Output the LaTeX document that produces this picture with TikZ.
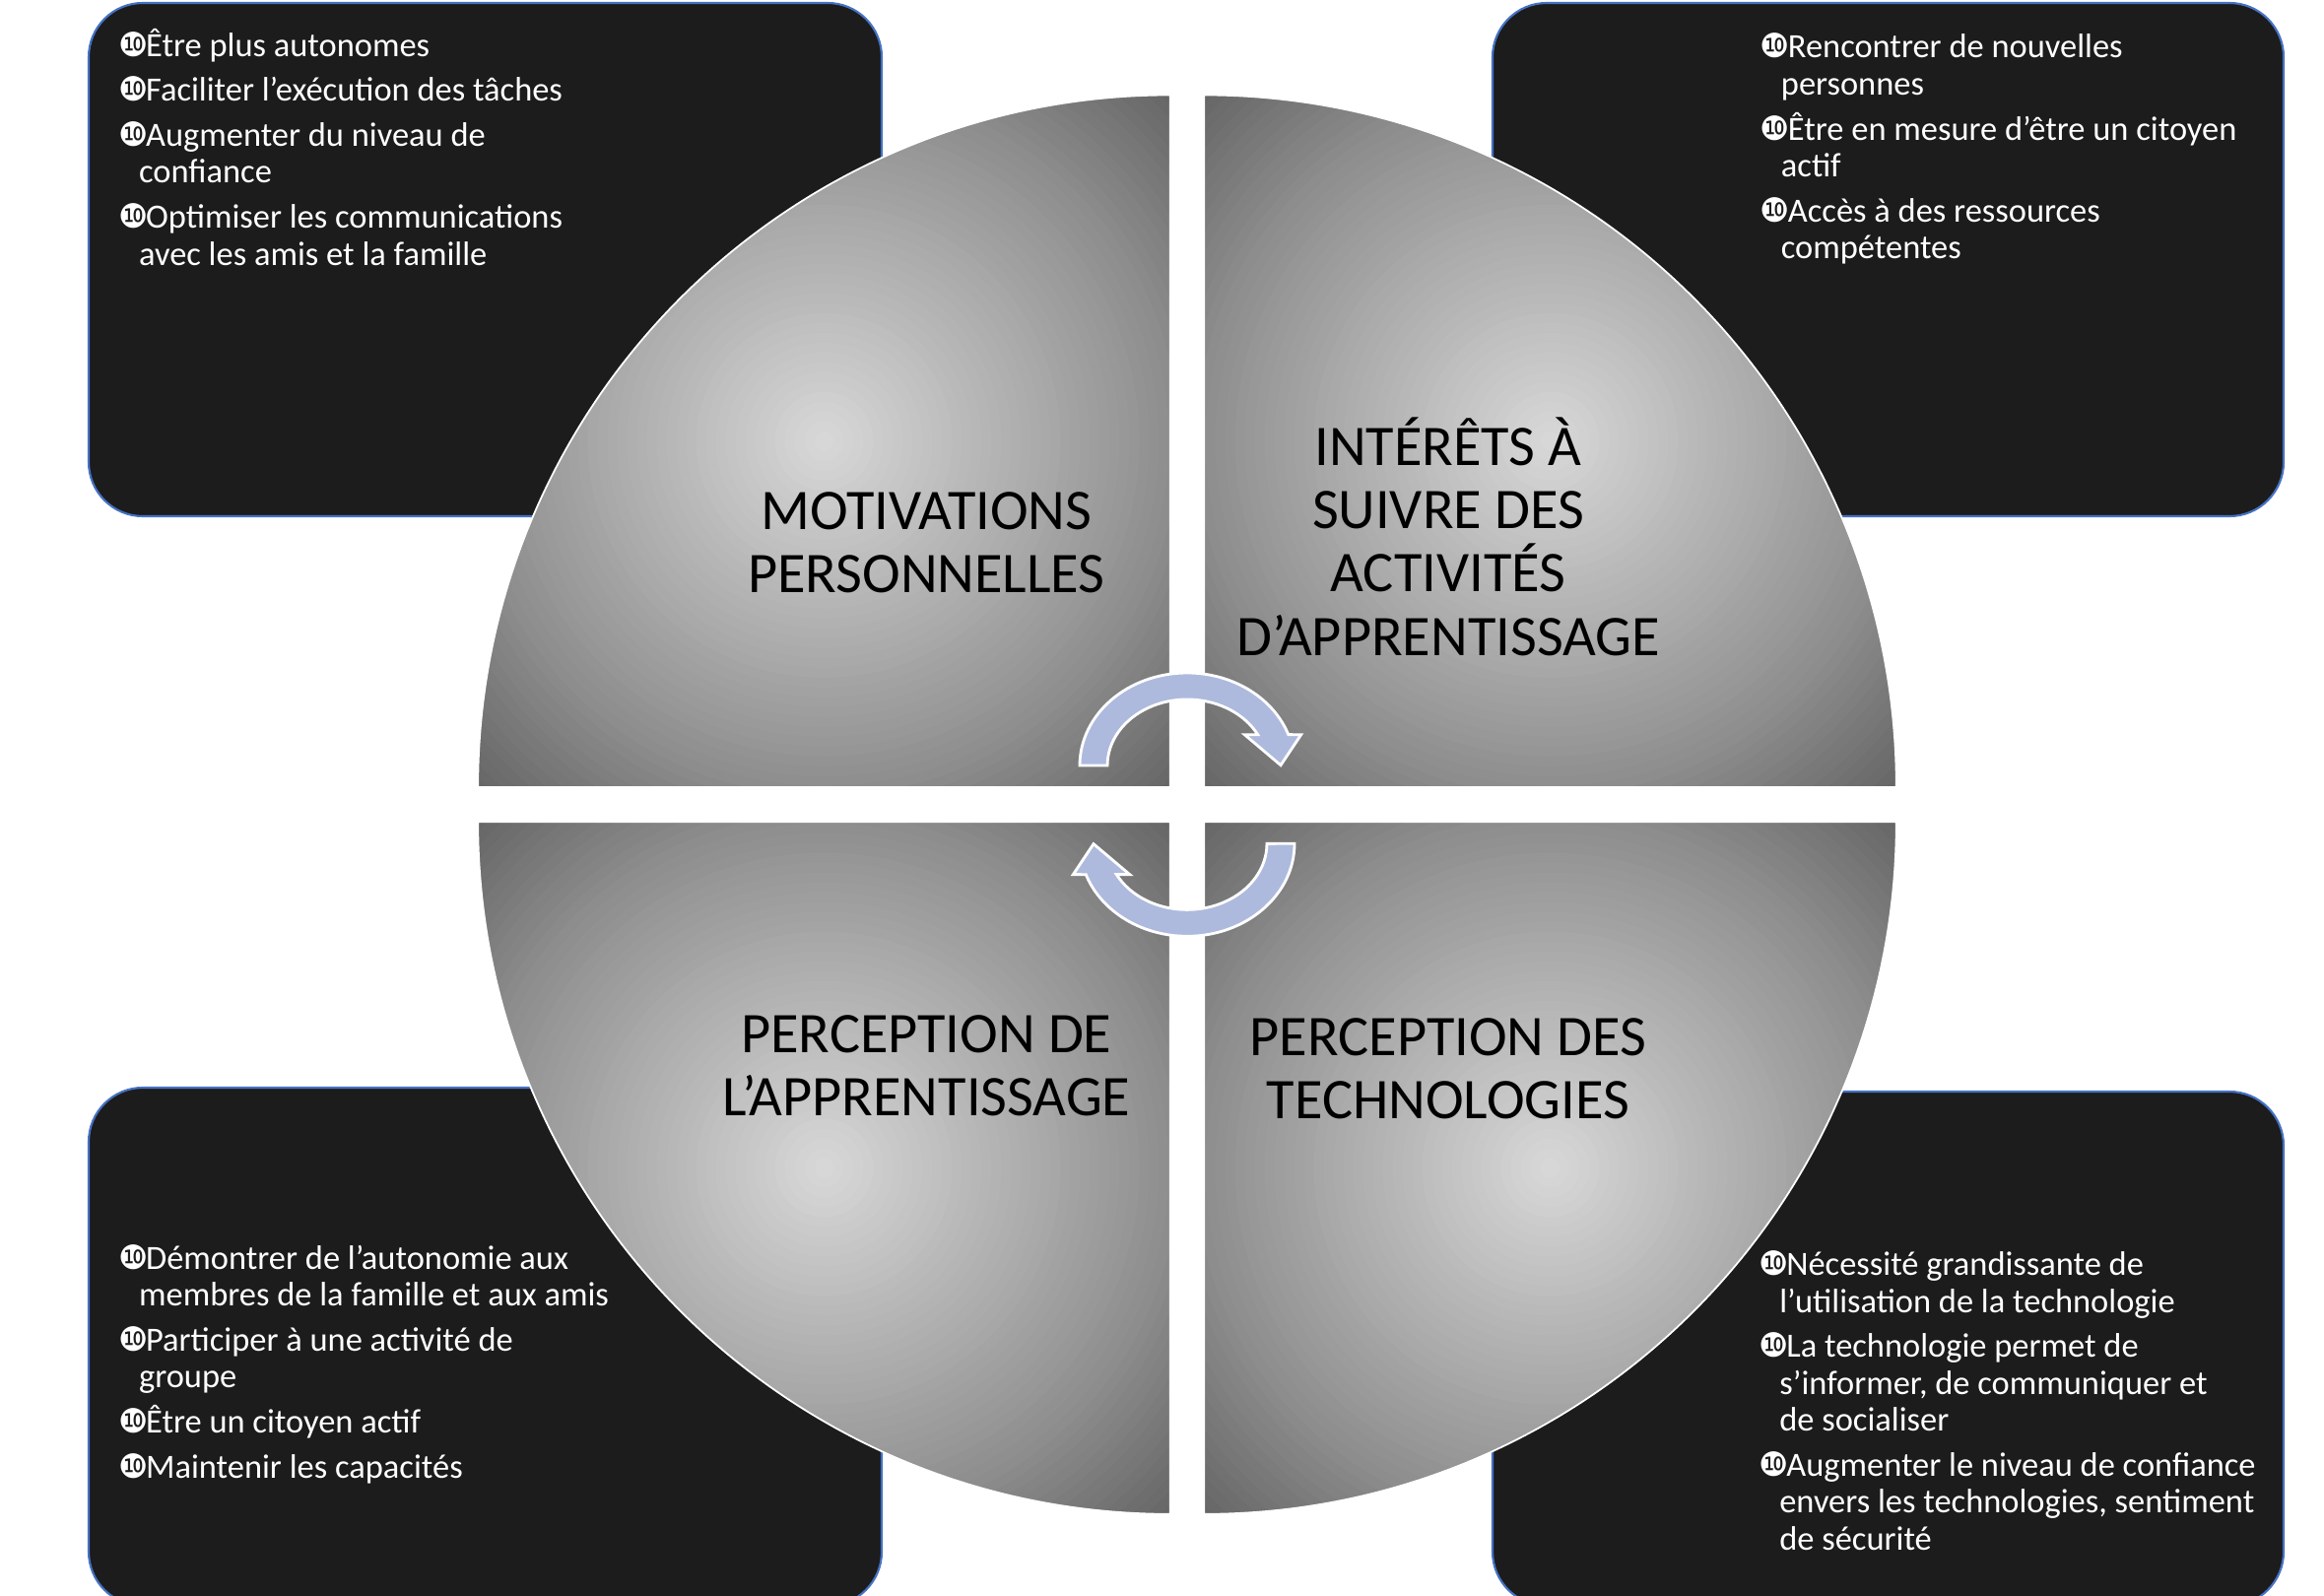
\documentclass[tikz,border=0pt]{standalone}
\usepackage{fontspec}
\setmainfont{Carlito}
\newfontfamily\bulfont{DejaVu Sans}
\definecolor{boxfill}{HTML}{1C1C1C}
\definecolor{boxblue}{HTML}{4472C4}
\definecolor{arrowblue}{RGB}{173,186,222}
\newlength\bulw \setlength\bulw{0.28cm}
\newlength\contind \setlength\contind{0.21cm}
\newcommand\mybul{{\bulfont\fontsize{9.6}{9.6}\selectfont ❿}}
\newcommand\bitem[1]{\hbox{\makebox[\bulw][l]{\mybul}#1}}
\newcommand\bcont[1]{\hbox{\hspace*{\contind}#1}}
\newcommand\bgap{\vskip 2.3pt}
\newcommand\blist[1]{\vtop{\baselineskip=10.67pt\lineskiplimit=-30pt\lineskip=0pt #1}}
\newcommand\qline[1]{\hbox to 6cm{\hfil#1\hfil}}
\newcommand\qlist[1]{\vtop{\baselineskip=18.3pt\lineskiplimit=-30pt\lineskip=0pt #1}}
% radial grey fill of one quarter: #1 = quarter path, #2 = centre of its square
\newcommand\shadequarter[2]{%
  \begin{scope}
    \clip #1;
    \foreach \i in {50,...,1}{%
      \pgfmathsetmacro\rr{\i*0.1}%
      \pgfmathsetmacro\gg{\rr<3.51 ? 217-21.07*\rr : 143-27.4*(\rr-3.51)}%
      \pgfmathsetmacro\pc{100*(1-\gg/255)}%
      \fill[black!\pc!white] #2 circle (\rr);
    }
  \end{scope}
  \draw[quarteredge] #1;}
\tikzset{
  infobox/.style={fill=boxfill, draw=boxblue, line width=0.6pt, rounded corners=0.55cm},
  quarteredge/.style={draw=white, line width=0.5pt},
  cyclearrow/.style={fill=arrowblue, draw=white, line width=0.8pt, line join=miter},
  btext/.style={text=white, inner sep=0pt, anchor=base west, font=\fontsize{9.8}{10.67}\selectfont},
  qtext/.style={text=black, inner sep=0pt, anchor=base, font=\fontsize{16.6}{18.3}\selectfont}
}
\begin{document}
\begin{tikzpicture}
\useasboundingbox (0,0) rectangle (23.59,-16.20);
\clip (0,0) rectangle (23.59,-16.20);
% boxes
\path[infobox] (0.90,-0.03) rectangle (8.95,-5.24);
\path[infobox] (15.15,-0.03) rectangle (23.18,-5.24);
\path[infobox] (0.90,-11.04) rectangle (8.95,-16.30);
\path[infobox] (15.15,-11.08) rectangle (23.18,-16.30);
% quarters
\shadequarter{(11.877,-7.99) -- ++(-7.025,0) arc[start angle=180, end angle=90, radius=7.025] -- cycle}{(8.3645,-4.4775)}
\shadequarter{(12.223,-7.99) -- ++(7.025,0) arc[start angle=0, end angle=90, radius=7.025] -- cycle}{(15.7355,-4.4775)}
\shadequarter{(11.877,-8.343) -- ++(-7.025,0) arc[start angle=180, end angle=270, radius=7.025] -- cycle}{(8.3645,-11.8555)}
\shadequarter{(12.223,-8.343) -- ++(7.025,0) arc[start angle=0, end angle=-90, radius=7.025] -- cycle}{(15.7355,-11.8555)}
% cycle arrows
\coordinate (mid) at (12.05,-8.1665);
\path[cyclearrow] (10.96,-7.77) arc[start angle=180, end angle=19.5, x radius=1.09, y radius=0.94]
  -- (13.207,-7.457) -- (13.00,-7.767) -- (12.633,-7.457) -- (12.767,-7.457)
  arc[start angle=27.8, end angle=180, x radius=0.81, y radius=0.67] -- cycle;
\begin{scope}[rotate around={180:(mid)}]
\path[cyclearrow] (10.96,-7.77) arc[start angle=180, end angle=19.5, x radius=1.09, y radius=0.94]
  -- (13.207,-7.457) -- (13.00,-7.767) -- (12.633,-7.457) -- (12.767,-7.457)
  arc[start angle=27.8, end angle=180, x radius=0.81, y radius=0.67] -- cycle;
\end{scope}
% quarter labels
\node[qtext] (qtl) at (9.404,-5.375) {\qlist{\qline{MOTIVATIONS}\qline{PERSONNELLES}}};
\node[qtext] (qtr) at (14.70,-4.723) {\qlist{\qline{INTÉRÊTS À}\qline{SUIVRE DES}\qline{ACTIVITÉS}\qline{D’APPRENTISSAGE}}};
\node[qtext] (qbl) at (9.403,-10.68) {\qlist{\qline{PERCEPTION DE}\qline{L’APPRENTISSAGE}}};
\node[qtext] (qbr) at (14.70,-10.71) {\qlist{\qline{PERCEPTION DES}\qline{TECHNOLOGIES}}};
% box texts
\node[btext] (ttl) at (1.194,-0.573) {\blist{%
\bitem{Être plus autonomes}\bgap
\bitem{Faciliter l’exécution des tâches}\bgap
\bitem{Augmenter du niveau de}
\bcont{confiance}\bgap
\bitem{Optimiser les communications}
\bcont{avec les amis et la famille}}};
\node[btext] (ttr) at (17.862,-0.59) {\blist{%
\bitem{Rencontrer de nouvelles}
\bcont{personnes}\bgap
\bitem{Être en mesure d’être un citoyen}
\bcont{actif}\bgap
\bitem{Accès à des ressources}
\bcont{compétentes}}};
\node[btext] (tbl) at (1.194,-12.883) {\blist{%
\bitem{Démontrer de l’autonomie aux}
\bcont{membres de la famille et aux amis}\bgap
\bitem{Participer à une activité de}
\bcont{groupe}\bgap
\bitem{Être un citoyen actif}\bgap
\bitem{Maintenir les capacités}}};
\node[btext] (tbr) at (17.846,-12.945) {\blist{%
\bitem{Nécessité grandissante de}
\bcont{l’utilisation de la technologie}\bgap
\bitem{La technologie permet de}
\bcont{s’informer, de communiquer et}
\bcont{de socialiser}\bgap
\bitem{Augmenter le niveau de confiance}
\bcont{envers les technologies, sentiment}
\bcont{de sécurité}}};
\end{tikzpicture}
\end{document}
